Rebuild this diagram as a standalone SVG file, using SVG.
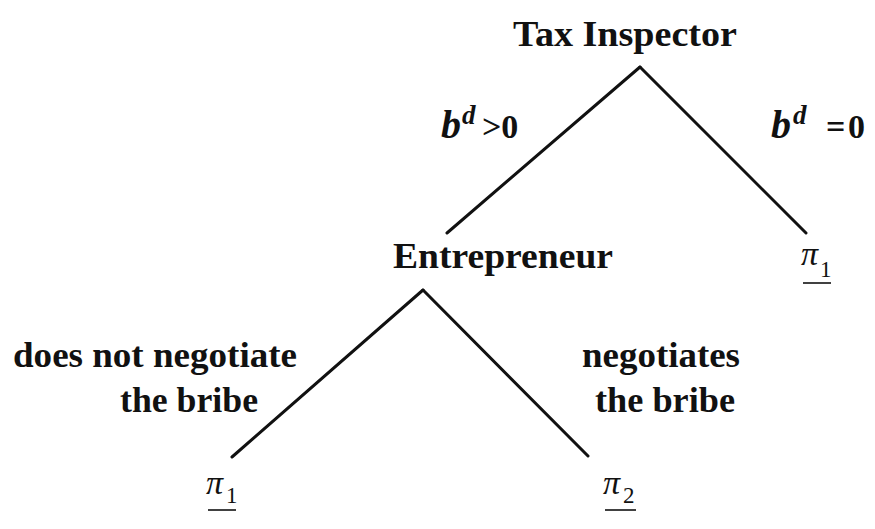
<svg xmlns="http://www.w3.org/2000/svg" width="875" height="529" viewBox="0 0 875 529">
<style>
.lbl{font-family:"Liberation Serif","Times New Roman",serif;font-weight:bold;font-size:35px;fill:#111}
.math{font-family:"Liberation Serif","Times New Roman",serif;fill:#111}
.edge{stroke:#111;stroke-width:3;fill:none;stroke-linecap:round}
.ul{stroke:#111;stroke-width:1.6}
</style>
<rect width="875" height="529" fill="#fff"/>
<g id="connectors">
<line class="edge" x1="640" y1="67" x2="447" y2="233"/>
<line class="edge" x1="640" y1="67" x2="806" y2="233"/>
<line class="edge" x1="423" y1="290" x2="232" y2="457"/>
<line class="edge" x1="423" y1="290" x2="588" y2="456"/>
</g>
<g id="tax-inspector">
<text class="lbl" x="513" y="46" textLength="224" lengthAdjust="spacingAndGlyphs">Tax Inspector</text>
</g>
<g id="edge-label-bd-pos">
<text class="math" x="441" y="138" font-size="40" font-style="italic" font-weight="bold">b</text>
<text class="math" x="462" y="124" font-size="27" font-style="italic" font-weight="bold">d</text>
<text class="math" x="482" y="138" font-size="34" font-weight="bold">&gt;0</text>
</g>
<g id="edge-label-bd-zero">
<text class="math" x="771" y="138" font-size="40" font-style="italic" font-weight="bold">b</text>
<text class="math" x="793" y="124" font-size="27" font-style="italic" font-weight="bold">d</text>
<text class="math" x="826" y="138" font-size="34" font-weight="bold">=</text>
<text class="math" x="848" y="138" font-size="34" font-weight="bold">0</text>
</g>
<g id="entrepreneur">
<text class="lbl" x="393" y="268" textLength="220" lengthAdjust="spacingAndGlyphs">Entrepreneur</text>
</g>
<g id="payoff-top">
<text class="math" x="801" y="265" font-size="34" font-style="italic">π</text>
<text class="math" x="820" y="277" font-size="23">1</text>
<line class="ul" x1="803" y1="283" x2="831" y2="283"/>
</g>
<g id="edge-label-not-negotiate">
<text class="lbl" x="13" y="367" textLength="284" lengthAdjust="spacingAndGlyphs">does not negotiate</text>
<text class="lbl" x="120" y="412" textLength="138" lengthAdjust="spacingAndGlyphs">the bribe</text>
</g>
<g id="edge-label-negotiates">
<text class="lbl" x="582" y="367" textLength="158" lengthAdjust="spacingAndGlyphs">negotiates</text>
<text class="lbl" x="595" y="412" textLength="140" lengthAdjust="spacingAndGlyphs">the bribe</text>
</g>
<g id="payoff-left">
<text class="math" x="206" y="494" font-size="34" font-style="italic">π</text>
<text class="math" x="226" y="503" font-size="23">1</text>
<line class="ul" x1="208" y1="510" x2="236" y2="510"/>
</g>
<g id="payoff-right">
<text class="math" x="603" y="494" font-size="34" font-style="italic">π</text>
<text class="math" x="623" y="503" font-size="23">2</text>
<line class="ul" x1="605" y1="510" x2="636" y2="510"/>
</g>
</svg>
